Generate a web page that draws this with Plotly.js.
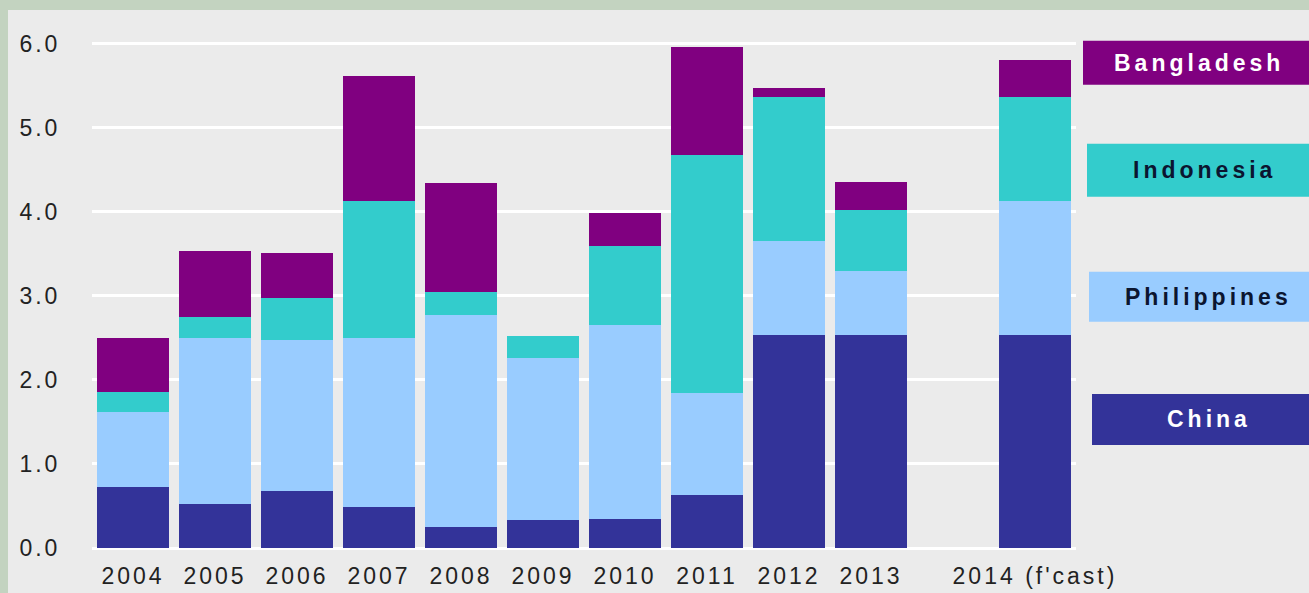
<!DOCTYPE html>
<html>
<head>
<meta charset="utf-8">
<script src="https://cdn.plot.ly/plotly-3.0.1.min.js"></script>
<style>
  html, body { margin: 0; padding: 0; background: #c3d3c0; width: 1309px; height: 593px; overflow: hidden; }
  #chart { position: absolute; left: 8px; top: 10px; width: 1301px; height: 583px; }
  .xtick text, .ytick text { letter-spacing: 3px; }
  .annotation-text { letter-spacing: 4px; }
</style>
</head>
<body>
<div id="chart"></div>
<script>
// ---- data ----
const years = ['2004', '2005', '2006', '2007', '2008', '2009', '2010', '2011', '2012', '2013', "2014 (f'cast)"];
const spacer = ' ';
const china       = [0.73, 0.52, 0.68, 0.49, 0.25, 0.33, 0.35, 0.63, 2.54, 2.54, 2.54];
const philippines = [0.89, 1.98, 1.80, 2.01, 2.52, 1.93, 2.30, 1.21, 1.11, 0.75, 1.59];
const indonesia   = [0.24, 0.25, 0.49, 1.63, 0.28, 0.26, 0.94, 2.84, 1.72, 0.73, 1.23];
const bangladesh  = [0.64, 0.78, 0.54, 1.48, 1.29, 0.00, 0.39, 1.28, 0.10, 0.34, 0.44];
const seriesNames = ['China', 'Philippines', 'Indonesia', 'Bangladesh'];
const yTicks = [0, 1, 2, 3, 4, 5, 6];

// ---- styling ----
const colors = { China: '#333399', Philippines: '#99ccff', Indonesia: '#33cccc', Bangladesh: '#800080' };
const labelColors = { China: '#ffffff', Philippines: '#0b1530', Indonesia: '#0b1530', Bangladesh: '#ffffff' };
const seriesValues = { China: china, Philippines: philippines, Indonesia: indonesia, Bangladesh: bangladesh };

const W = 1301, H = 583;
const M = { l: 84, r: 233, t: 32.3, b: 45 };
const pw = W - M.l - M.r, ph = H - M.t - M.b;
const px = x => (x - M.l) / pw;          // div pixel -> paper x
const py = y => (H - M.b - y) / ph;      // div pixel -> paper y

const categoryOrder = years.slice(0, 10).concat([spacer, years[10]]);

const traces = seriesNames.map(n => ({
  type: 'bar',
  name: n,
  x: years,
  y: seriesValues[n],
  marker: { color: colors[n], line: { width: 0 } },
  hoverinfo: 'none'
}));

// legend boxes (div pixel coords: x0, y0, y1, text centre x, text centre y)
const boxes = [
  { n: 'Bangladesh',  x0: 1075, y0: 31,  y1: 75,  tx: 1191, ty: 53 },
  { n: 'Indonesia',   x0: 1079, y0: 134, y1: 187, tx: 1196, ty: 160 },
  { n: 'Philippines', x0: 1081, y0: 262, y1: 312, tx: 1200, ty: 287 },
  { n: 'China',       x0: 1084, y0: 384, y1: 435, tx: 1201, ty: 409 }
];

const shapes = boxes.map(b => ({
  type: 'rect', xref: 'paper', yref: 'paper',
  x0: px(b.x0), x1: px(W + 5), y0: py(b.y1), y1: py(b.y0),
  fillcolor: colors[b.n], line: { width: 0 }, layer: 'above'
}));

const annotations = boxes.map(b => ({
  xref: 'paper', yref: 'paper', x: px(b.tx), y: py(b.ty),
  xanchor: 'center', yanchor: 'middle', showarrow: false,
  text: '<b>' + b.n + '</b>',
  font: { family: 'Liberation Sans, Arial, sans-serif', size: 23, color: labelColors[b.n] }
}));

const layout = {
  width: W, height: H,
  margin: M,
  paper_bgcolor: '#ebebeb',
  plot_bgcolor: '#ebebeb',
  barmode: 'stack',
  bargap: 0.11,
  showlegend: false,
  font: { family: 'Liberation Sans, Arial, sans-serif', size: 23, color: '#222222' },
  xaxis: {
    type: 'category',
    categoryorder: 'array',
    categoryarray: categoryOrder,
    showgrid: false, zeroline: false, showline: false,
    ticks: 'outside', ticklen: 7, tickcolor: 'rgba(0,0,0,0)',
    tickfont: { size: 23, color: '#222222' },
    fixedrange: true
  },
  yaxis: {
    range: [0, 6.02],
    tickvals: yTicks,
    tickformat: '.1f',
    showgrid: true, gridcolor: '#ffffff', gridwidth: 3,
    zeroline: true, zerolinecolor: '#ffffff', zerolinewidth: 3,
    showline: false,
    ticks: 'outside', ticklen: 26, tickcolor: 'rgba(0,0,0,0)',
    tickfont: { size: 23, color: '#222222' },
    fixedrange: true
  },
  shapes: shapes,
  annotations: annotations
};

Plotly.newPlot('chart', traces, layout, { displayModeBar: false, staticPlot: true });
</script>
</body>
</html>
